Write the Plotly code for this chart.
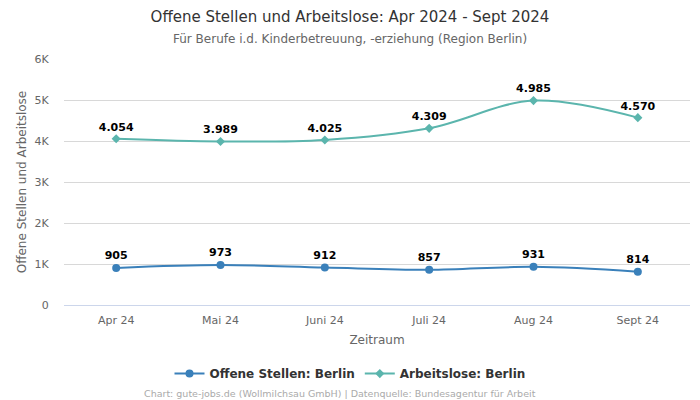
import plotly.graph_objects as go

months = ["Apr 24", "Mai 24", "Juni 24", "Juli 24", "Aug 24", "Sept 24"]
offene = [905, 973, 912, 857, 931, 814]
arbeitslose = [4054, 3989, 4025, 4309, 4985, 4570]
y_ticks = [0, 1000, 2000, 3000, 4000, 5000, 6000]
y_tick_labels = ["0", "1K", "2K", "3K", "4K", "5K", "6K"]

def fmt(v):
    return f"{v:,}".replace(",", ".")

FONT = "DejaVu Sans"
blue = "#3a80ba"
teal = "#5bb5ad"
CX = (350 - 64) / 626  # container centre in paper coordinates

fig = go.Figure()
fig.add_trace(go.Scatter(
    x=months, y=offene, name="Offene Stellen: Berlin",
    mode="lines+markers+text", line=dict(color=blue, width=2, shape="spline"),
    marker=dict(size=8, symbol="circle", color=blue),
    text=[fmt(v) for v in offene], textposition="top center",
    textfont=dict(family=FONT, size=11, color="#000000", weight="bold"),
    cliponaxis=False,
))
fig.add_trace(go.Scatter(
    x=months, y=arbeitslose, name="Arbeitslose: Berlin",
    mode="lines+markers+text", line=dict(color=teal, width=2, shape="spline"),
    marker=dict(size=7, symbol="diamond", color=teal),
    text=[fmt(v) for v in arbeitslose], textposition="top center",
    textfont=dict(family=FONT, size=11, color="#000000", weight="bold"),
    cliponaxis=False,
))

fig.update_layout(
    width=700, height=400,
    margin=dict(l=64, r=10, t=59, b=95),
    paper_bgcolor="white", plot_bgcolor="white",
    font=dict(family=FONT, color="#666666"),
    title=dict(
        text="Offene Stellen und Arbeitslose: Apr 2024 - Sept 2024",
        x=0.5, xanchor="center", yref="container", y=1 - 17 / 400, yanchor="middle",
        font=dict(family=FONT, size=15, color="#333333"),
    ),
    xaxis=dict(
        title=dict(text="Zeitraum", font=dict(size=12, color="#666666"), standoff=9),
        tickfont=dict(size=11, color="#666666"),
        range=[-0.5, 5.5],
        showgrid=False, showline=True, linecolor="#ccd6eb",
        ticks="outside", ticklen=5, tickcolor="rgba(0,0,0,0)",
    ),
    yaxis=dict(
        title=dict(text="Offene Stellen und Arbeitslose", font=dict(size=12, color="#666666"), standoff=5),
        tickvals=y_ticks, ticktext=y_tick_labels, range=[0, 6000],
        tickfont=dict(size=11, color="#666666"),
        showgrid=True, gridcolor="#d8d8d8", zeroline=False,
        ticks="outside", ticklen=12, tickcolor="rgba(0,0,0,0)",
    ),
    legend=dict(
        orientation="h", x=CX, xanchor="center", y=-0.22, yanchor="top",
        font=dict(size=12, color="#333333", weight="bold"), itemwidth=30,
    ),
    annotations=[
        dict(
            text="Für Berufe i.d. Kinderbetreuung, -erziehung (Region Berlin)",
            xref="paper", yref="paper", x=CX, y=1 + 20 / 246, xanchor="center", yanchor="middle",
            showarrow=False, font=dict(size=12, color="#666666"),
        ),
        dict(
            text="Chart: gute-jobs.de (Wollmilchsau GmbH) | Datenquelle: Bundesagentur für Arbeit",
            xref="paper", yref="paper", x=(340 - 64) / 626, y=-0.33, xanchor="center", yanchor="top",
            showarrow=False, font=dict(size=9.5, color="#aaaaaa"),
        ),
    ],
)

fig.write_html("out.html", config={"displayModeBar": False},
               post_script="document.body.style.margin='0';document.body.style.overflow='hidden';")
